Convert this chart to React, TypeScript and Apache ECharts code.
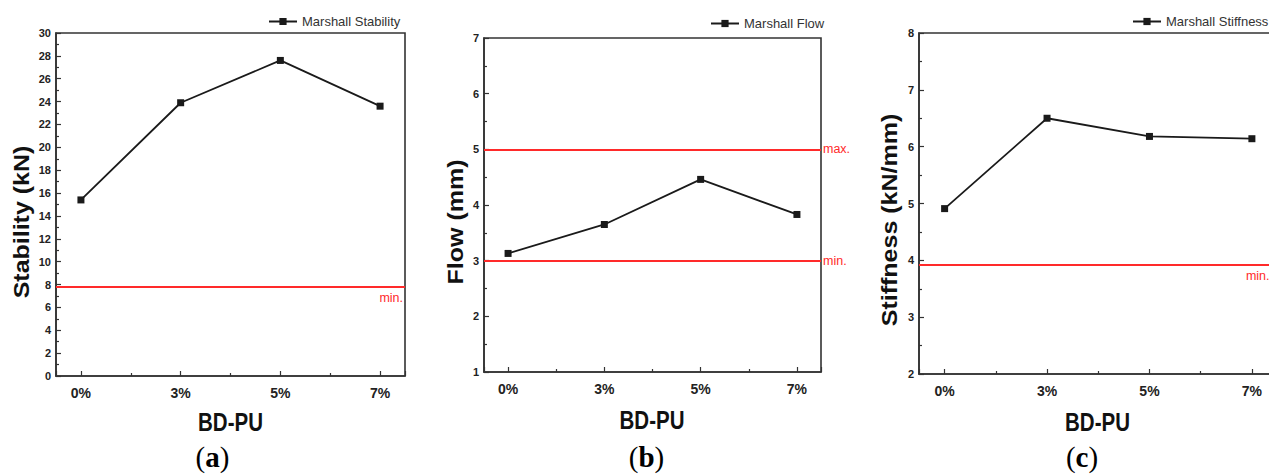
import React, { useEffect, useRef } from "react";
import * as echarts from "echarts";

const categories = ["0%", "3%", "5%", "7%"];
const stability = [15.4, 23.9, 27.6, 23.6];
const flow = [3.13, 3.65, 4.46, 3.83];
const stiffness = [4.91, 6.5, 6.18, 6.14];
const stabilityMin = 7.8;
const flowMax = 5;
const flowMin = 3;
const stiffnessMin = 3.93;

const SANS = "'Liberation Sans', Arial, sans-serif";
const SERIF = "'Liberation Serif', 'Times New Roman', serif";
const RED = "#ff2a2a";
const AXIS = "#333";

const grids = [
  { left: 56, top: 33, width: 349, height: 343 },
  { left: 484, top: 38, width: 337, height: 334 },
  { left: 919, top: 33, width: 358.5, height: 341 },
];

function xAxisFor(gi: number) {
  return {
    type: "value",
    gridIndex: gi,
    min: -0.25,
    max: 3.25,
    splitNumber: 4,
    axisLine: { show: true, onZero: false, lineStyle: { color: AXIS, width: 1.6 } },
    axisTick: { show: true, inside: true, length: 5, lineStyle: { color: AXIS, width: 1.2 } },
    minorTick: { show: true, splitNumber: 2, length: 3, lineStyle: { color: AXIS, width: 1.2 } },
    splitLine: { show: false },
    minorSplitLine: { show: false },
    axisLabel: {
      margin: 10,
      fontFamily: SANS,
      fontWeight: "bold",
      fontSize: 14,
      color: "#222",
      formatter: (v: number) => {
        const r = Math.round(v);
        return Math.abs(v - r) < 1e-6 && r >= 0 && r < categories.length ? categories[r] : "";
      },
    },
  };
}

function yAxisFor(gi: number, min: number, max: number, interval: number) {
  return {
    type: "value",
    gridIndex: gi,
    min,
    max,
    interval,
    axisLine: { show: true, onZero: false, lineStyle: { color: AXIS, width: 1.6 } },
    axisTick: { show: true, inside: true, length: 5, lineStyle: { color: AXIS, width: 1.2 } },
    minorTick: { show: true, splitNumber: 2, length: 3, lineStyle: { color: AXIS, width: 1.2 } },
    splitLine: { show: false },
    minorSplitLine: { show: false },
    axisLabel: {
      margin: 5,
      fontFamily: SANS,
      fontWeight: "bold",
      fontSize: 11,
      color: "#222",
    },
  };
}

function lineSeries(name: string, gi: number, values: number[], marks: any[]) {
  return {
    name,
    type: "line",
    xAxisIndex: gi,
    yAxisIndex: gi,
    data: values.map((v, i) => [i, v]),
    symbol: "rect",
    symbolSize: 7,
    lineStyle: { color: "#1a1a1a", width: 1.8 },
    itemStyle: { color: "#1a1a1a" },
    markLine: {
      silent: true,
      symbol: ["none", "none"],
      lineStyle: { color: RED, width: 1.8, type: "solid" },
      label: { color: RED, fontFamily: SANS, fontSize: 12.5 },
      emphasis: { disabled: true },
      data: marks,
    },
  };
}

function yTitle(text: string, x: number, y: number) {
  return {
    type: "text",
    x,
    y,
    rotation: Math.PI / 2,
    scaleY: 0.85,
    style: {
      text,
      fill: "#111",
      font: `bold 25px ${SANS}`,
      textAlign: "center",
      textVerticalAlign: "middle",
    },
  };
}

function xTitle(text: string, x: number, y: number) {
  return {
    type: "text",
    x,
    y,
    scaleX: 0.82,
    style: {
      text,
      fill: "#111",
      font: `bold 25px ${SANS}`,
      textAlign: "center",
      textVerticalAlign: "middle",
    },
  };
}

function caption(letter: string, x: number, y: number) {
  return {
    type: "text",
    x,
    y,
    style: {
      text: `{p|(}{b|${letter}}{p|)}`,
      textAlign: "center",
      textVerticalAlign: "middle",
      rich: {
        p: { font: `29px ${SERIF}`, fill: "#000" },
        b: { font: `bold 29px ${SERIF}`, fill: "#000" },
      },
    },
  };
}

function legendFor(name: string, left: number, top: number) {
  return {
    data: [name],
    left,
    top,
    itemWidth: 28,
    itemHeight: 9,
    selectedMode: false,
    padding: 0,
    textStyle: { fontFamily: SANS, fontSize: 13, color: "#333" },
  };
}

export default function App() {
  const ref = useRef<HTMLDivElement>(null);
  useEffect(() => {
    if (!ref.current) return;
    const chart = echarts.init(ref.current, undefined, { renderer: "svg" });
    chart.setOption({
      animation: false,
      backgroundColor: "#fff",
      grid: grids.map((g) => ({
        ...g,
        show: true,
        borderColor: AXIS,
        borderWidth: 1.6,
        backgroundColor: "transparent",
        containLabel: false,
      })),
      xAxis: [xAxisFor(0), xAxisFor(1), xAxisFor(2)],
      yAxis: [yAxisFor(0, 0, 30, 2), yAxisFor(1, 1, 7, 1), yAxisFor(2, 2, 8, 1)],
      legend: [
        legendFor("Marshall Stability", 268, 15),
        legendFor("Marshall Flow", 710, 17),
        legendFor("Marshall Stiffness", 1132, 15),
      ],
      series: [
        lineSeries("Marshall Stability", 0, stability, [
          { yAxis: stabilityMin, label: { formatter: "min.", position: "insideEndBottom", distance: [2, 5] } },
        ]),
        lineSeries("Marshall Flow", 1, flow, [
          { yAxis: flowMax, label: { formatter: "max.", position: "end", distance: 2 } },
          { yAxis: flowMin, label: { formatter: "min.", position: "end", distance: 2 } },
        ]),
        lineSeries("Marshall Stiffness", 2, stiffness, [
          { yAxis: stiffnessMin, label: { formatter: "min.", position: "insideEndBottom", distance: [8, 5] } },
        ]),
      ],
      graphic: [
        yTitle("Stability (kN)", 22, 222),
        yTitle("Flow (mm)", 456, 222),
        yTitle("Stiffness (kN/mm)", 890, 220),
        xTitle("BD-PU", 230.5, 422),
        xTitle("BD-PU", 652, 420),
        xTitle("BD-PU", 1097.5, 422),
        caption("a", 212.5, 457),
        caption("b", 646.5, 457),
        caption("c", 1082, 457),
      ],
    });
    return () => chart.dispose();
  }, []);
  return (
    <div style={{ position: "absolute", left: 0, top: 0, width: 1269, height: 474, overflow: "hidden", background: "#fff" }}>
      <div ref={ref} style={{ width: 1290, height: 474 }} />
    </div>
  );
}
